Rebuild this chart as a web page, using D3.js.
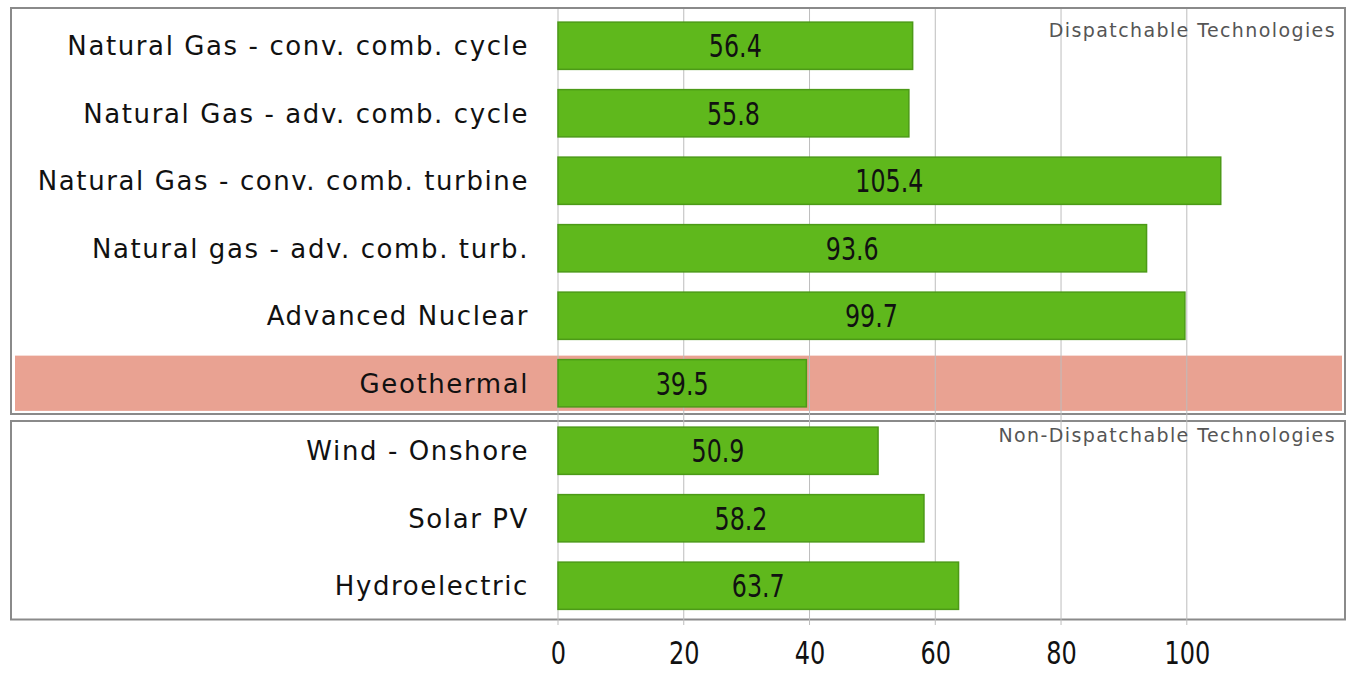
<!DOCTYPE html>
<html>
<head>
<meta charset="utf-8">
<script src="https://cdn.jsdelivr.net/npm/d3@7"></script>
<style>
  body { margin: 0; background: #fff; }
  .cat { font-family: "DejaVu Sans", sans-serif; font-size: 26px; letter-spacing: 1.6px; fill: #111; }
  .val { font-family: "DejaVu Sans", sans-serif; font-size: 29px; fill: #111; }
  .tick text { font-family: "DejaVu Sans", sans-serif; font-size: 30px; fill: #111; }
  .note { font-family: "DejaVu Sans", sans-serif; font-size: 19px; letter-spacing: 1.4px; fill: #555; }
</style>
</head>
<body>
<div id="graphic"></div>
<script>
const width = 1354;
const height = 673;

// data
const categories = [
  'Natural Gas - conv. comb. cycle',
  'Natural Gas - adv. comb. cycle',
  'Natural Gas - conv. comb. turbine',
  'Natural gas - adv. comb. turb.',
  'Advanced Nuclear',
  'Geothermal',
  'Wind - Onshore',
  'Solar PV',
  'Hydroelectric'
];
const costs = [56.4, 55.8, 105.4, 93.6, 99.7, 39.5, 50.9, 58.2, 63.7];
const tickValues = [0, 20, 40, 60, 80, 100];
const highlighted = ['Geothermal'];
const groupNames = ['Dispatchable Technologies', 'Non-Dispatchable Technologies'];
const groupFirst = ['Natural Gas - conv. comb. cycle', 'Wind - Onshore'];
const groupLast = ['Geothermal', 'Hydroelectric'];

const svg = d3.select('#graphic').append('svg')
  .attr('width', width)
  .attr('height', height);

const x = d3.scaleLinear()
  .domain([0, 125])
  .range([558, 1344]);

const y = d3.scaleBand()
  .domain(categories)
  .range([12, 619.5])
  .paddingInner(0.3)
  .paddingOuter(0.15);

const step = y.step();

// group boxes
groupNames.forEach((g, i) => {
  const top = y(groupFirst[i]) - (step - y.bandwidth()) / 2 - (i == 0 ? 4 : 0);
  const bottom = y(groupLast[i]) + y.bandwidth() + (step - y.bandwidth()) / 2 - (i == 0 ? 3 : 0);
  svg.append('rect')
    .attr('x', 11)
    .attr('y', top + (i == 0 ? 0 : 4))
    .attr('width', 1334)
    .attr('height', bottom - top - (i == 0 ? 0 : 4))
    .attr('fill', 'none')
    .attr('stroke', '#8a8a8a')
    .attr('stroke-width', 2);
});

// highlight band
svg.selectAll('.hl')
  .data(highlighted)
  .enter()
  .append('rect')
  .attr('class', 'hl')
  .attr('x', 15)
  .attr('y', d => y(d) - 4)
  .attr('width', 1327)
  .attr('height', y.bandwidth() + 8)
  .attr('fill', '#e9a292');

// grid
const axisX = d3.axisBottom(x)
  .tickValues(tickValues)
  .tickSize(0)
  .tickPadding(0);

svg.append('g')
  .attr('class', 'grid')
  .selectAll('line')
  .data(tickValues)
  .enter()
  .append('line')
  .attr('x1', d => x(d))
  .attr('x2', d => x(d))
  .attr('y1', 9)
  .attr('y2', 625)
  .attr('stroke', '#bdbdbd')
  .attr('stroke-width', 1);

// bars
const rows = svg.selectAll('.row')
  .data(categories)
  .enter()
  .append('g')
  .attr('class', 'row');

rows.append('rect')
  .attr('x', x(0))
  .attr('y', d => y(d))
  .attr('width', (d, i) => x(costs[i]) - x(0))
  .attr('height', y.bandwidth())
  .attr('fill', '#5fb81c')
  .attr('stroke', '#4c9a17')
  .attr('stroke-width', 1.5);

rows.append('text')
  .attr('class', 'cat')
  .attr('x', 529)
  .attr('y', d => y(d) + y.bandwidth() / 2)
  .attr('dy', '0.36em')
  .attr('text-anchor', 'end')
  .text(d => d);

// condensed value labels
rows.append('text')
  .attr('class', 'val')
  .attr('transform', (d, i) => `translate(${(x(0) + x(costs[i])) / 2}, ${y(d) + y.bandwidth() / 2}) scale(0.82, 1.08)`)
  .attr('dy', '0.36em')
  .attr('text-anchor', 'middle')
  .text((d, i) => costs[i].toFixed(1));

// axis
const axisG = svg.append('g')
  .attr('transform', 'translate(0, 664)')
  .call(axisX);
axisG.select('.domain').remove();
axisG.selectAll('.tick text')
  .attr('dy', '0')
  .attr('y', 0)
  .attr('transform', 'scale(0.8, 1.08)');

// group notes
groupNames.forEach((g, i) => {
  svg.append('text')
    .attr('class', 'note')
    .attr('x', 1336)
    .attr('y', y(groupFirst[i]) + 15)
    .attr('text-anchor', 'end')
    .text(g);
});
</script>
</body>
</html>
